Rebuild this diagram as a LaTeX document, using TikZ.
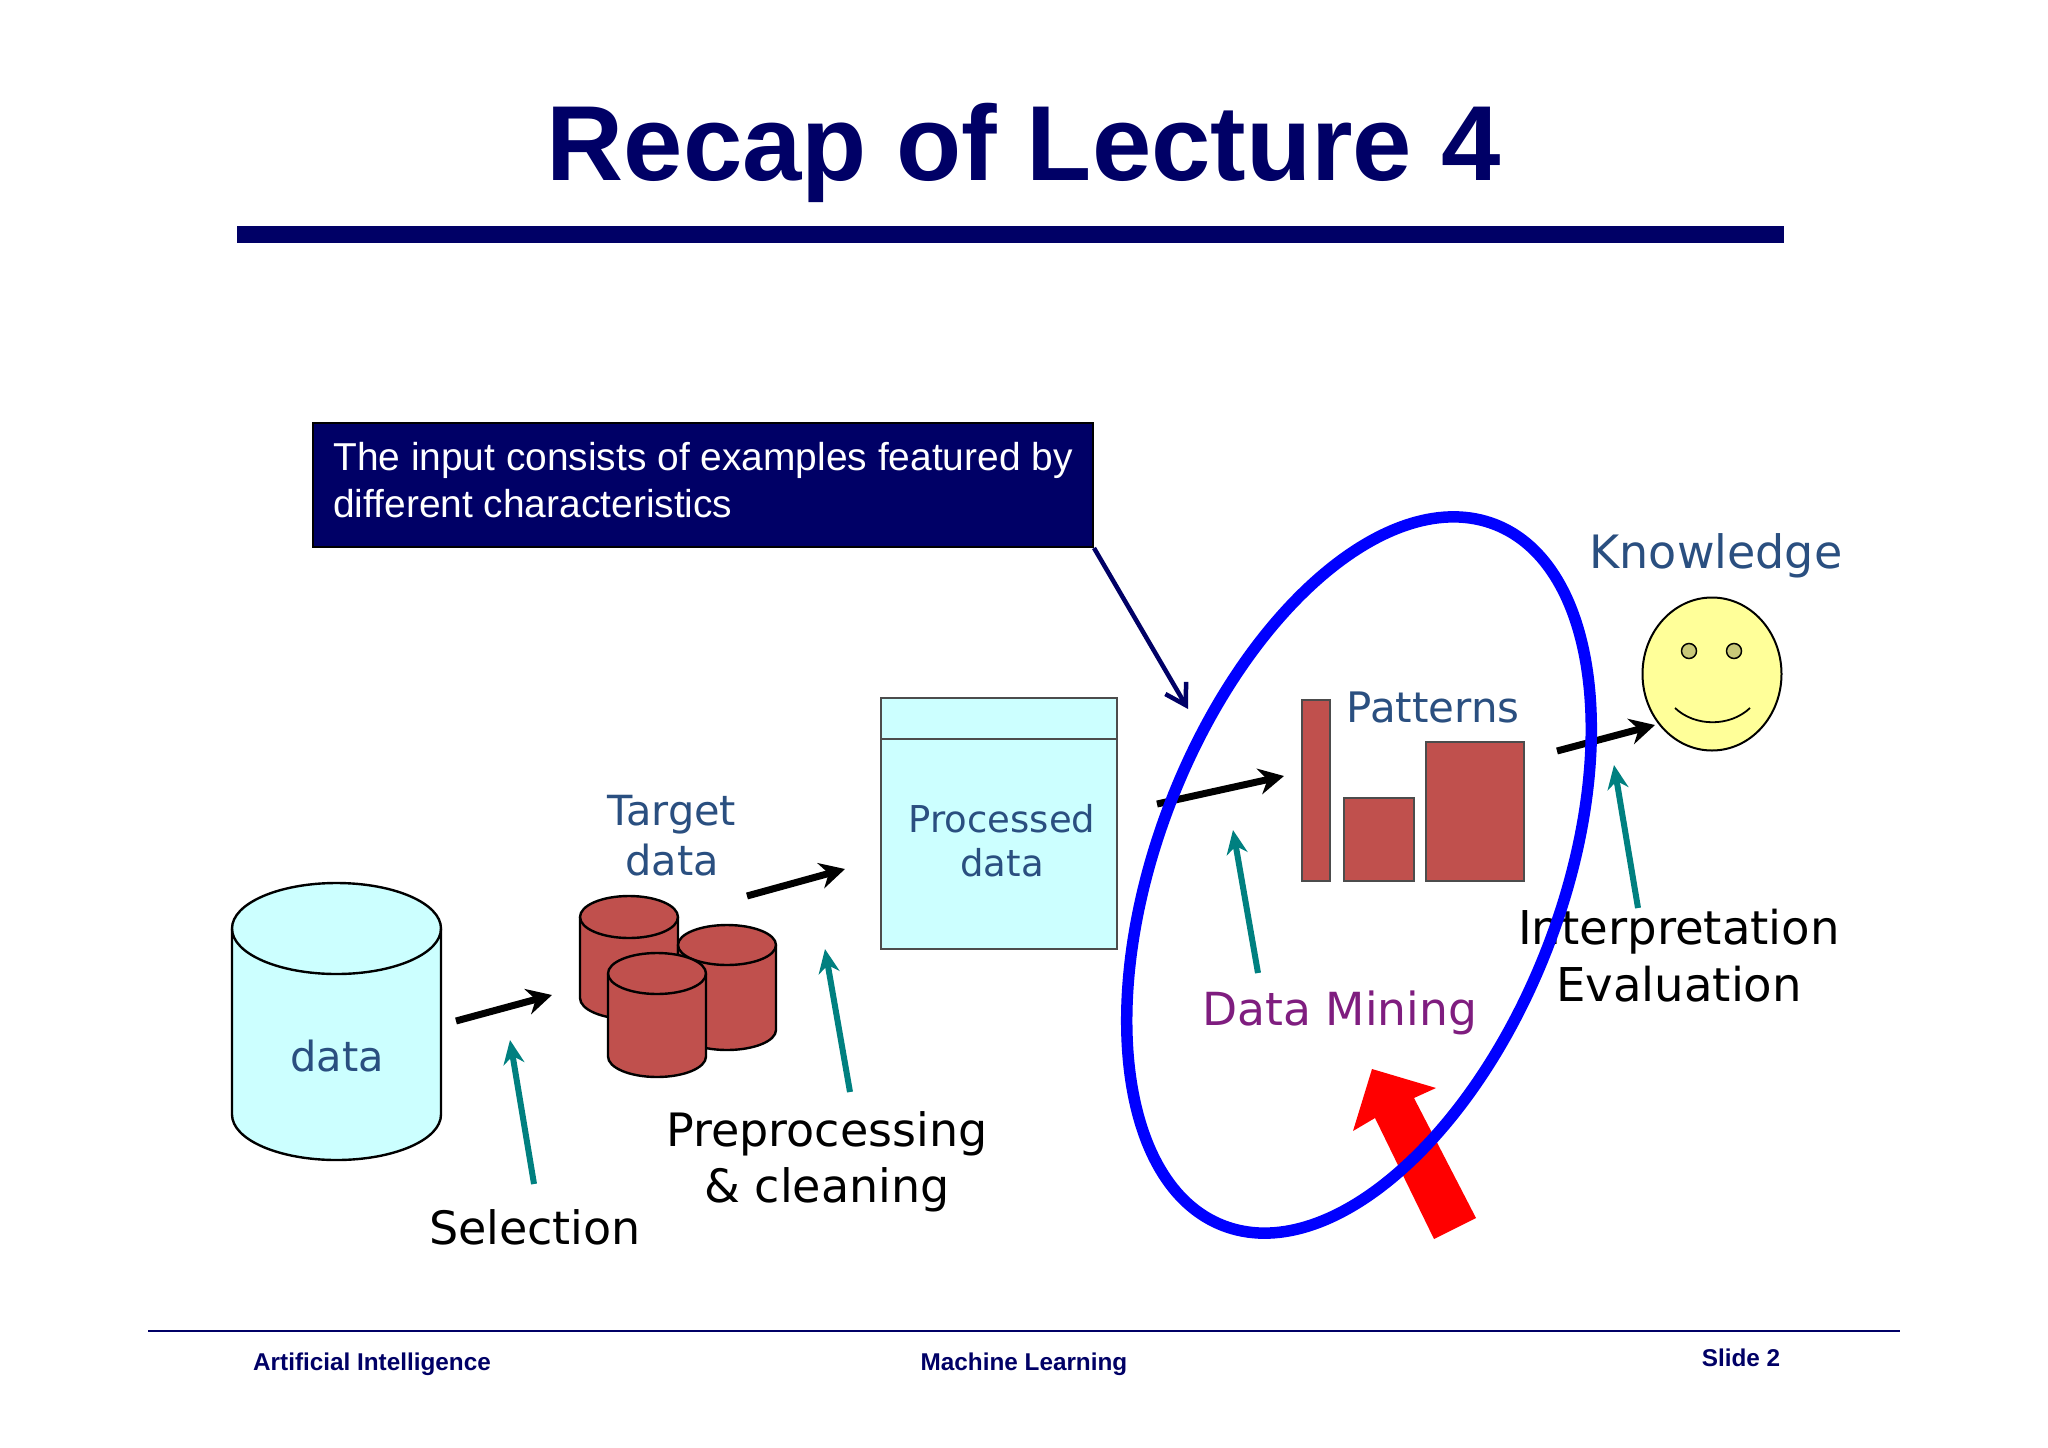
\documentclass[tikz,border=0pt]{standalone}
\usepackage{fontspec}
\setmainfont{Liberation Sans}
\newfontfamily\diafont{DejaVu Sans}
\usetikzlibrary{arrows.meta,shapes.geometric,calc}
\definecolor{navy}{HTML}{000066}
\definecolor{cyanfill}{HTML}{CCFFFF}
\definecolor{brick}{HTML}{C0504D}
\definecolor{tealar}{HTML}{008080}
\definecolor{bluetxt}{HTML}{2A4F80}
\definecolor{purpletxt}{HTML}{7F1D7F}
\definecolor{smile}{HTML}{FFFF99}
\definecolor{eye}{HTML}{C8C878}
\tikzset{
  x=1pt,y=-1pt,
  flowarrow/.style={line width=7pt,black,-{Stealth[length=25pt,width=26pt]}},
  notearrow/.style={line width=6pt,tealar,-{Stealth[length=24pt,width=21pt]}},
  bartxt/.style={font=\diafont\fontsize{41.5}{50}\selectfont,text=bluetxt,align=center,inner sep=0pt},
  blacktxt/.style={font=\diafont\fontsize{46}{56}\selectfont,text=black,align=center,inner sep=0pt},
  foot/.style={font=\bfseries\fontsize{24.3}{30}\selectfont,text=navy,inner sep=0pt,anchor=base},
  bar/.style={draw=black!70,line width=2pt,fill=brick,inner sep=0pt,anchor=north west},
}
% x1, x2, top y, lower edge of top ellipse, bottom y, fill
\newcommand{\mycyl}[6]{%
  \pgfmathsetmacro{\rxx}{(#2-#1)/2}%
  \pgfmathsetmacro{\ryy}{(#4-#3)/2}%
  \pgfmathsetmacro{\ctop}{(#3+#4)/2}%
  \pgfmathsetmacro{\cbot}{#5-\ryy}%
  \draw[fill=#6,line width=2.4pt] (#1,\ctop) -- (#1,\cbot) arc[start angle=180,end angle=0,x radius=\rxx,y radius=\ryy] -- (#2,\ctop) arc[start angle=0,end angle=-180,x radius=\rxx,y radius=\ryy] -- cycle;
  \draw[line width=2.4pt] (#1,\ctop) arc[start angle=180,end angle=0,x radius=\rxx,y radius=\ryy];
}
\begin{document}
\begin{tikzpicture}
\useasboundingbox (0,0) rectangle (2048,1448);
\fill[white] (0,0) rectangle (2048,1448);
% title
\node[font=\bfseries\fontsize{106.7}{120}\selectfont,text=navy,inner sep=0pt,anchor=base] (title) at (1024,180) {Recap of Lecture 4};
\fill[navy] (237,226) rectangle (1784,243);
% callout
\node[draw=black,line width=2pt,fill=navy,text=white,anchor=north west,minimum width=780pt,minimum height=124pt,inner sep=0pt,inner xsep=16pt,align=left,font=\fontsize{38.9}{47}\selectfont] (callout) at (312,422) {The input consists of examples featured by\\different characteristics\\[-37pt]\mbox{}};
\coordinate (calloutend) at (1188,709);
\draw[navy,line width=4.5pt,-{Straight Barb[length=20pt,width=24pt]}] (callout.south east) -- (calloutend);
% data
\mycyl{232}{441}{883}{974}{1160}{cyanfill}
\node[bartxt] (datal) at (337,1056) {data};
% target
\node[bartxt] (target) at (672,836) {Target\\data};
\mycyl{580}{678}{896}{938}{1019}{brick}
\mycyl{678}{776}{925}{965}{1050}{brick}
\mycyl{608}{706}{953}{994}{1077}{brick}
% processed
\node[draw=black!70,line width=2.4pt,fill=cyanfill,anchor=north west,minimum width=236pt,minimum height=251pt,inner sep=0pt] (proc) at (880,697) {};
\draw[black!70,line width=2.4pt] (880,739) -- (1116,739);
\node[bartxt,font=\diafont\fontsize{37}{44}\selectfont] (procl) at (1002,841) {Processed\\data};
% bars
\node[bar,minimum width=28pt,minimum height=181pt] (b1) at (1301,699) {};
\node[bar,minimum width=70pt,minimum height=83pt] (b2) at (1343,797) {};
\node[bar,minimum width=98pt,minimum height=139pt] (b3) at (1425,741) {};
\node[bartxt,font=\diafont\fontsize{42}{50}\selectfont,anchor=base] (patterns) at (1433,722) {Patterns};
% smiley
\node[ellipse,draw=black,line width=2pt,fill=smile,minimum width=139pt,minimum height=153pt,inner sep=0pt] (face) at (1712,674) {};
\node[circle,draw=black,line width=1.5pt,fill=eye,minimum size=15pt,inner sep=0pt] (eyeL) at (1689,651) {};
\node[circle,draw=black,line width=1.5pt,fill=eye,minimum size=15pt,inner sep=0pt] (eyeR) at (1734,651) {};
\coordinate (smileL) at (1675,708);
\coordinate (smileR) at (1750,708);
\draw[line width=1.8pt] (smileL) .. controls (1695,727) and (1730,727) .. (smileR);
\node[bartxt,font=\diafont\fontsize{46}{54}\selectfont,anchor=base] (know) at (1716,568) {Knowledge};
% labels
\node[blacktxt,anchor=base] (sel) at (535,1244) {Selection};
\node[blacktxt] (prep) at (827,1162) {Preprocessing\\\& cleaning};
\node[blacktxt,font=\diafont\fontsize{46.6}{57}\selectfont] (interp) at (1679,956) {Interpretation\\Evaluation};
\node[font=\diafont\fontsize{45.6}{56}\selectfont,text=purpletxt,anchor=base,inner sep=0pt] (dm) at (1340,1025) {Data Mining};
% black arrows
\coordinate (a1s) at (456,1021); \coordinate (a1e) at (552,995);
\coordinate (a2s) at (747,896); \coordinate (a2e) at (845,869);
\coordinate (a3s) at (1157,804); \coordinate (a3e) at (1284,776);
\coordinate (a4s) at (1557,751); \coordinate (a4e) at (1655,725);
\draw[flowarrow] (a1s) -- (a1e);
\draw[flowarrow] (a2s) -- (a2e);
\draw[flowarrow] (a3s) -- (a3e);
\draw[flowarrow] (a4s) -- (a4e);
% teal arrows
\coordinate (t1s) at (534,1184); \coordinate (t1e) at (510,1040);
\coordinate (t2s) at (850,1092); \coordinate (t2e) at (825,949);
\coordinate (t3s) at (1258,973); \coordinate (t3e) at (1233,830);
\coordinate (t4s) at (1638,908); \coordinate (t4e) at (1614,765);
\draw[notearrow] (t1s) -- (t1e);
\draw[notearrow] (t2s) -- (t2e);
\draw[notearrow] (t3s) -- (t3e);
\draw[notearrow] (t4s) -- (t4e);
% red block arrow
\fill[red] (1372,1069) -- (1436,1088) -- (1414,1098) -- (1476,1218) -- (1434,1239) -- (1375,1118) -- (1353,1131) -- cycle;
% blue ellipse
\node[ellipse,draw=blue,line width=11.5pt,minimum width=404pt,minimum height=752pt,inner sep=0pt,rotate=-21.2] (ring) at (1359,875) {};
% footer
\draw[navy,line width=2.6pt] (148,1331) -- (1900,1331);
\node[foot] (f1) at (372,1370) {Artificial Intelligence};
\node[foot] (f2) at (1024,1370) {Machine Learning};
\node[foot] (f3) at (1741,1366) {Slide 2};
\end{tikzpicture}
\end{document}
